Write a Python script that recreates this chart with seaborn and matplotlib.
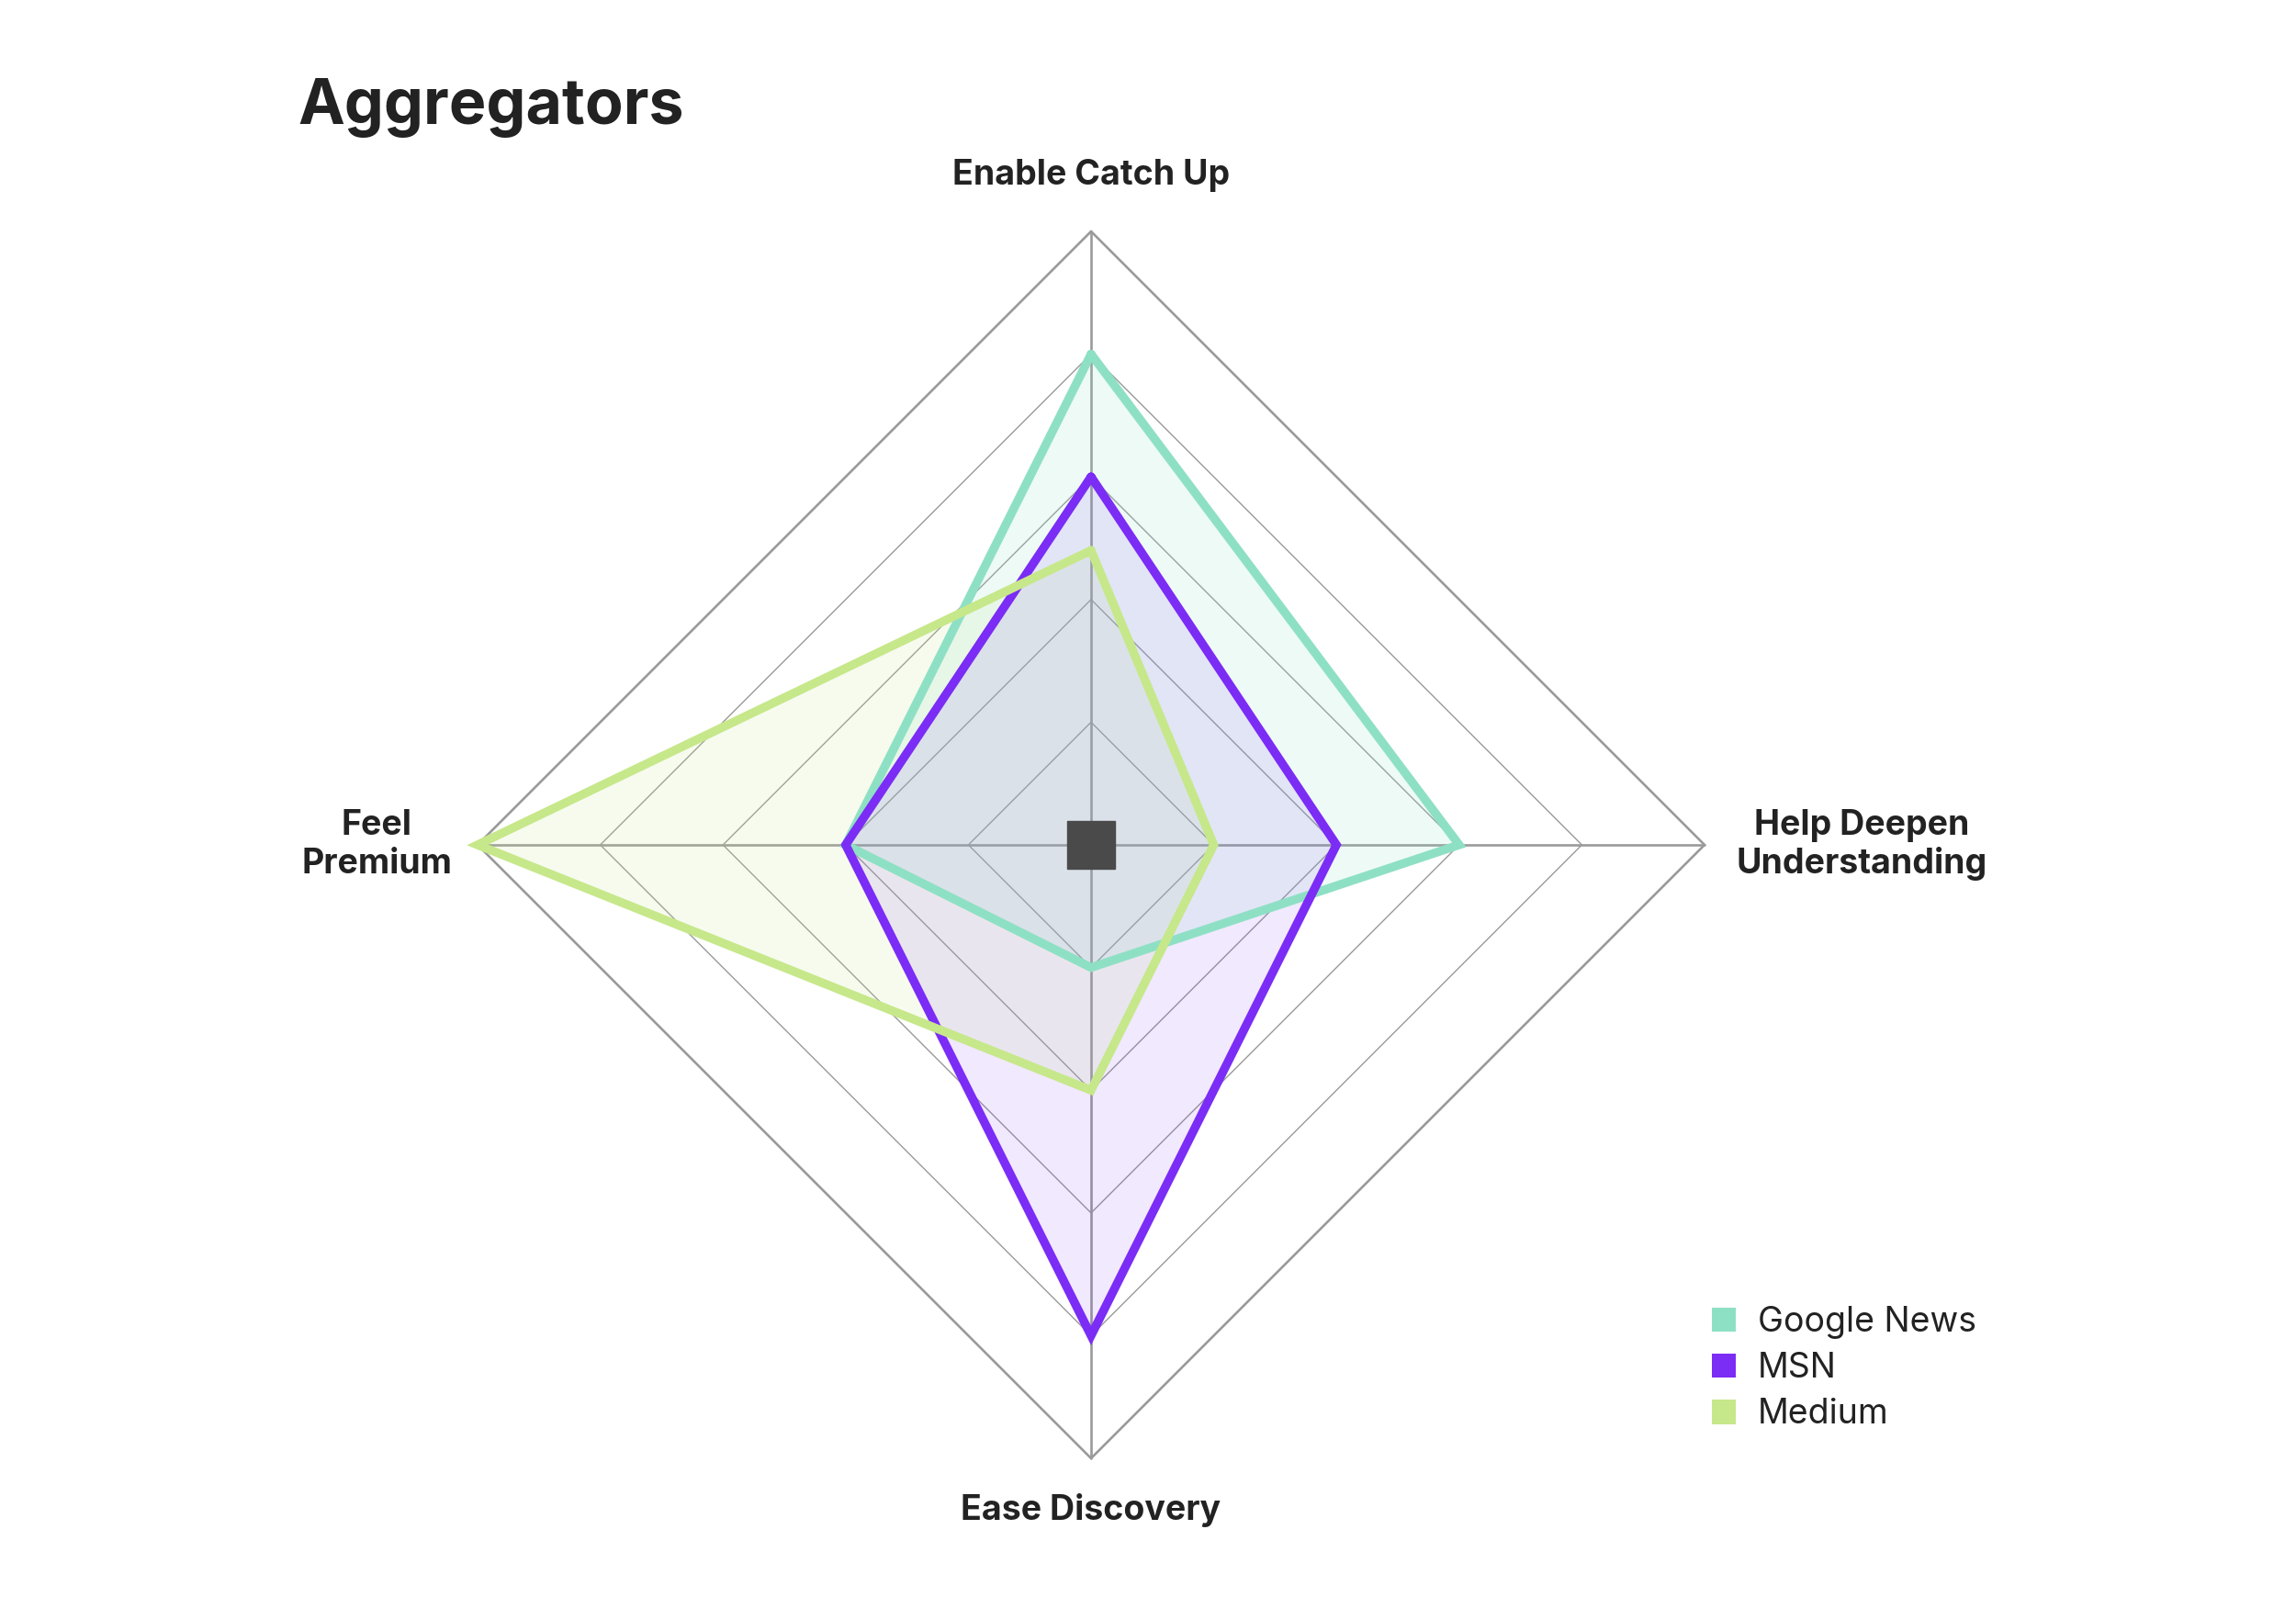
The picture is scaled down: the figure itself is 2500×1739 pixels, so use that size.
import numpy as np
import pandas as pd
import matplotlib
matplotlib.use("Agg")
import matplotlib.pyplot as plt
import seaborn as sns
from matplotlib.patches import Patch

# ---- data ----
categories = ["Enable Catch Up", "Help Deepen\nUnderstanding", "Ease Discovery", "Feel\nPremium"]
series_names = ["Google News", "MSN", "Medium"]
google_news = [4, 3, 1, 2]
msn = [3, 2, 4, 2]
medium = [2.4, 1, 2, 5]
ring_levels = [1, 2, 3, 4, 5]
title_text = "Aggregators"

colors = {"Google News": "#8EE0C4", "MSN": "#7B2CF5", "Medium": "#C6E88A"}
fill_alpha = {"Google News": 0.15, "MSN": 0.10, "Medium": 0.14}
fill_order = ["Medium", "Google News", "MSN"]

sns.set_theme(style="white")
plt.rcParams["font.family"] = ["Inter", "DejaVu Sans"]

W, H = 2500, 1739
fig = plt.figure(figsize=(W / 100, H / 100), dpi=100)
fig.patch.set_facecolor("white")

cx, cy, R = 1188, 920, 668
ax = fig.add_axes([(cx - R) / W, (H - cy - R) / H, 2 * R / W, 2 * R / H], projection="polar")
ax.set_theta_zero_location("N")
ax.set_theta_direction(-1)
ax.set_ylim(0, 5)
ax.grid(False)
ax.spines["polar"].set_visible(False)
ax.set_xticks([])
ax.set_yticks([])
ax.set_facecolor("none")

n = len(categories)
angles = np.linspace(0, 2 * np.pi, n, endpoint=False)
closed_angles = np.concatenate([angles, [2 * np.pi]])

# grid rings (diamonds)
for lvl in ring_levels:
    outer = lvl == ring_levels[-1]
    ax.plot(closed_angles, [lvl] * (n + 1), color="#9a9a9a",
            lw=1.9 if outer else 1.0, zorder=1, clip_on=False)
# spokes
for a in angles:
    ax.plot([a, a], [0, ring_levels[-1]], color="#9a9a9a", lw=1.9, zorder=1, clip_on=False)

n_grid = len(ax.lines)

# series
records = []
for name, vals in zip(series_names, [google_news, msn, medium]):
    vv = list(vals) + [vals[0]]
    for a, v in zip(closed_angles, vv):
        records.append({"series": name, "theta": a, "r": v})
df = pd.DataFrame(records)

for name in fill_order:
    sub = df[df["series"] == name]
    ax.fill(sub["theta"], sub["r"], color=colors[name], alpha=fill_alpha[name], lw=0, zorder=2)
for name in series_names:
    sub = df[df["series"] == name]
    sns.lineplot(data=sub, x="theta", y="r", sort=False, estimator=None, ax=ax,
                 color=colors[name], legend=False, zorder=3)
for i, ln in enumerate(ax.lines):
    ln.set_clip_on(False)
    if i >= n_grid:
        ln.set_linewidth(6.8)
        ln.set_solid_joinstyle("miter")

ax.set_xlabel("")
ax.set_ylabel("")
ax.set_ylim(0, 5)

# center marker
ax.plot([0], [0], marker="s", ms=38, color="#4a4a4a", zorder=5, clip_on=False)

# category labels
label_r = [5.46, 6.28, 5.42, 5.82]
for a, lab, rr in zip(angles, categories, label_r):
    ax.text(a, rr, lab, ha="center", va="center", fontsize=27, fontweight="bold",
            color="#222222", linespacing=1.2)

# title
fig.text(324 / W, 1 - 117 / H, title_text, fontsize=49, fontweight="bold", color="#222222",
         ha="left", va="center")

# legend
handles = [Patch(facecolor=colors[s], edgecolor="none", label=s) for s in series_names]
leg = fig.legend(handles=handles, loc="upper left", bbox_to_anchor=(1864 / W, 1 - 1422 / H),
                 frameon=False, fontsize=27, handlelength=0.7, handleheight=0.7,
                 handletextpad=0.62, labelspacing=0.38, borderpad=0, borderaxespad=0)
for t in leg.get_texts():
    t.set_color("#222222")

fig.savefig("out.png", dpi=100, facecolor="white")
